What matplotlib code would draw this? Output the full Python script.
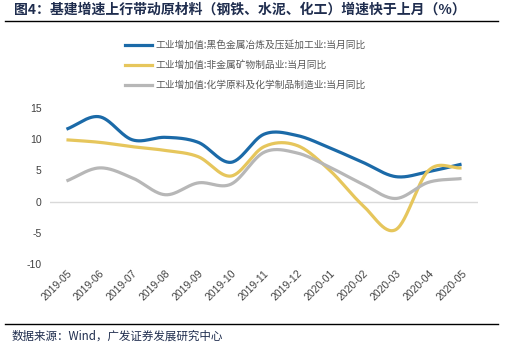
import numpy as np
import matplotlib
matplotlib.use("Agg")
import matplotlib.pyplot as plt
from matplotlib.lines import Line2D

plt.rcParams['font.family'] = ['Liberation Sans', 'Noto Sans CJK SC', 'DejaVu Sans']

months = ["2019-05", "2019-06", "2019-07", "2019-08", "2019-09", "2019-10", "2019-11",
          "2019-12", "2020-01", "2020-02", "2020-03", "2020-04", "2020-05"]
ferrous = [11.6, 13.6, 9.9, 10.3, 9.5, 6.3, 10.8, 10.6, 8.6, 6.3, 4.0, 4.8, 6.0]
nonmetal = [9.9, 9.5, 8.8, 8.2, 7.2, 4.1, 8.8, 9.0, 5.0, -0.6, -4.5, 5.0, 5.4]
chemical = [3.3, 5.4, 3.8, 1.1, 3.0, 2.8, 7.9, 7.8, 5.5, 2.8, 0.5, 3.1, 3.7]
labels = ["工业增加值:黑色金属冶炼及压延加工业:当月同比",
          "工业增加值:非金属矿物制品业:当月同比",
          "工业增加值:化学原料及化学制品制造业:当月同比"]
colors = ["#1B6AA8", "#E6C65C", "#B7B7B7"]
yticks = [-10, -5, 0, 5, 10, 15]


def smooth(x, y, n=30):
    x = np.asarray(x, float); y = np.asarray(y, float)
    px = np.concatenate([[2 * x[0] - x[1]], x, [2 * x[-1] - x[-2]]])
    py = np.concatenate([[2 * y[0] - y[1]], y, [2 * y[-1] - y[-2]]])
    xs, ys = [], []
    for i in range(1, len(px) - 2):
        t = np.linspace(0, 1, n, endpoint=False)
        for arr, out in ((px, xs), (py, ys)):
            p0, p1, p2, p3 = arr[i - 1], arr[i], arr[i + 1], arr[i + 2]
            out.extend(0.5 * ((2 * p1) + (-p0 + p2) * t + (2 * p0 - 5 * p1 + 4 * p2 - p3) * t ** 2
                              + (-p0 + 3 * p1 - 3 * p2 + p3) * t ** 3))
    xs.append(x[-1]); ys.append(y[-1])
    return np.array(xs), np.array(ys)


fig = plt.figure(figsize=(5.06, 3.47), dpi=100)
ax = fig.add_axes([50 / 506, 1 - 264 / 347, 428 / 506, 156 / 347])
x = np.arange(len(months))
for vals, c in zip([ferrous, nonmetal, chemical], colors):
    sx, sy = smooth(x, vals)
    ax.plot(sx, sy, color=c, lw=2.3, solid_capstyle='butt', zorder=3)
ax.axhline(0, color="#D9D9D9", lw=1, zorder=1)
ax.set_xlim(-0.5, 12.5)
ax.set_ylim(-10, 15)
ax.set_yticks(yticks)
ax.set_yticklabels([str(v) for v in yticks], fontsize=7.5, color="#404040")
ax.set_xticks(x)
ax.set_xticklabels(months, rotation=45, ha='right', rotation_mode='anchor', fontsize=7.5, color="#404040")
ax.tick_params(length=0, pad=6)
ax.tick_params(axis='x', pad=3)
for s in ax.spines.values():
    s.set_visible(False)

# title
fig.text(14 / 506, 1 - 10 / 347, "图4：基建增速上行带动原材料（钢铁、水泥、化工）增速快于上月（%）",
         fontsize=10, fontweight='bold', color="#1F2D4E", va='center', ha='left',
         family=['Noto Sans CJK SC', 'DejaVu Sans'])
fig.add_artist(Line2D([5 / 506, 498 / 506], [1 - 21 / 347, 1 - 21 / 347], color='black', lw=1))

# legend
ys_leg = [45, 65, 85]
for yy, lab, c in zip(ys_leg, labels, colors):
    fig.add_artist(Line2D([125 / 506, 152 / 506], [1 - yy / 347] * 2, color=c, lw=2.3))
    fig.text(155 / 506, 1 - yy / 347, lab, fontsize=7, color="#595959", va='center', ha='left',
             family=['Noto Sans CJK SC', 'DejaVu Sans'])

# bottom
fig.add_artist(Line2D([5 / 506, 498 / 506], [1 - 324 / 347] * 2, color='black', lw=1))
fig.text(12 / 506, 1 - 336 / 347, "数据来源：Wind，广发证券发展研究中心", fontsize=8.3, color="#1F2D4E",
         va='center', ha='left', family=['Noto Sans CJK SC', 'DejaVu Sans'])

fig.savefig("out.png", dpi=100)
